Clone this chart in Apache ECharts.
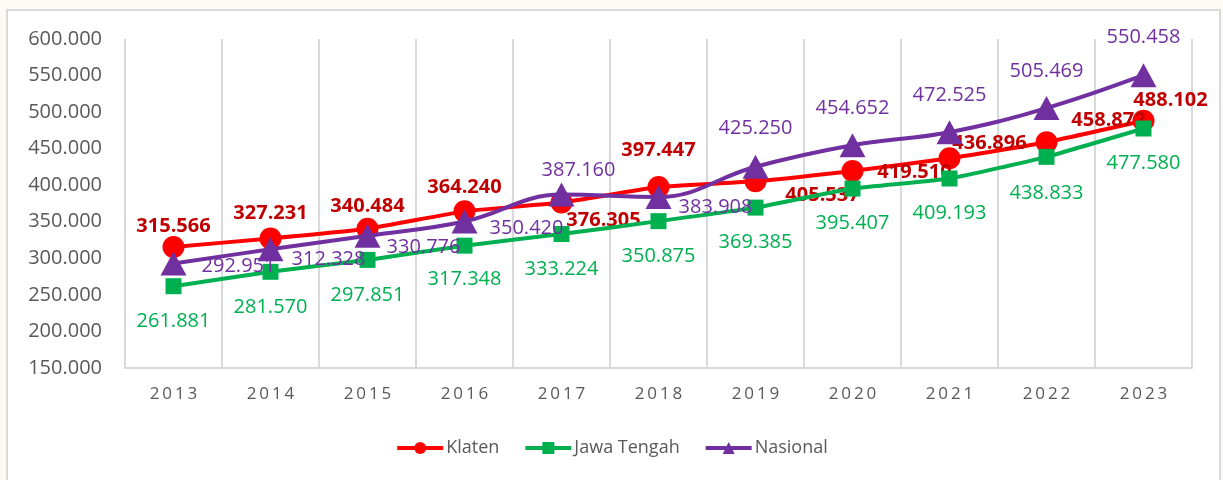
<!DOCTYPE html>
<html>
  <head>
    <meta charset="utf-8" />
    <script src="https://cdn.jsdelivr.net/npm/echarts@6/dist/echarts.min.js"></script>
    <style>
      body { margin: 0; background: #fbfaf5; }
    </style>
  </head>
  <body>
    <div id="main" style="width: 1223px;height:480px;"></div>
    <script type="text/javascript">
      var myChart = echarts.init(document.getElementById('main'));

      // data
      const years = ['2013', '2014', '2015', '2016', '2017', '2018', '2019', '2020', '2021', '2022', '2023'];
      const klaten = [315566, 327231, 340484, 364240, 376305, 397447, 405537, 419510, 436896, 458872, 488102];
      const jawaTengah = [261881, 281570, 297851, 317348, 333224, 350875, 369385, 395407, 409193, 438833, 477580];
      const nasional = [292951, 312328, 330776, 350420, 387160, 383908, 425250, 454652, 472525, 505469, 550458];
      const yTicks = [150000, 600000, 50000]; // min, max, step

      // where each value label sits, relative to its marker
      const klatenLabelPos = [[0, -21], [0, -25], [0, -22], [0, -24], [42, 18], [0, -37], [67, 14], [62, 1], [40, -15], [62, -22], [27, -21]];
      const jawaLabelPos = [[0, 35], [0, 35], [0, 35], [0, 34], [0, 35], [0, 35], [0, 35], [0, 35], [0, 35], [0, 36], [0, 35]];
      const nasLabelPos = [[65, 3], [58, 10], [56, 11], [62, 7], [17, -24], [57, 10], [0, -38], [0, -37], [0, -37], [0, -37], [0, -38]];

      function fmt(v) {
        return String(v).replace(/\B(?=(\d{3})+(?!\d))/g, '.');
      }
      function withLabels(values, pos) {
        return values.map((v, i) => ({ value: v, label: { offset: pos[i] } }));
      }
      const fontFam = '"Open Sans", sans-serif';

      option = {
        animation: false,
        textStyle: { fontFamily: fontFam },
        graphic: [
          { type: 'rect',
            shape: { x: 7, y: 10, width: 1213, height: 480 },
            style: { fill: '#fff', stroke: '#d9d9d9', lineWidth: 2 },
            z: -10
          }
        ],
        grid: {
          left: 125,
          right: 31,
          top: 39,
          bottom: 112
        },
        legend: {
          top: 434,
          left: 'center',
          itemWidth: 46,
          itemHeight: 15,
          itemGap: 24,
          lineStyle: { width: 4 },
          textStyle: { fontSize: 18, color: '#595959', fontFamily: fontFam, padding: [0, 0, 0, -2] },
          data: ['Klaten', 'Jawa Tengah', 'Nasional']
        },
        xAxis: {
          type: 'category',
          data: years,
          boundaryGap: true,
          axisLine: { lineStyle: { color: '#d9d9d9', width: 2 } },
          axisTick: { show: false },
          splitLine: { show: true, lineStyle: { color: '#d9d9d9', width: 2 } },
          axisLabel: {
            color: '#595959',
            fontSize: 17,
            margin: 18,
            formatter: function (value) {
              return value.split('').join('\u2009');
            }
          }
        },
        yAxis: {
          type: 'value',
          min: yTicks[0],
          max: yTicks[1],
          interval: yTicks[2],
          axisLine: { show: false },
          axisTick: { show: false },
          splitLine: { show: false },
          axisLabel: {
            color: '#595959',
            fontSize: 20,
            margin: 23,
            formatter: fmt
          }
        },
        series: [
          { name: 'Klaten',
            type: 'line',
            data: withLabels(klaten, klatenLabelPos),
            symbol: 'circle',
            symbolSize: 22,
            smooth: 0.15,
            color: '#ff0000',
            lineStyle: { width: 4, color: '#ff0000' },
            itemStyle: { color: '#ff0000' },
            label: {
              show: true,
              position: 'inside',
              fontSize: 20,
              fontWeight: 'bold',
              color: '#c00000',
              formatter: p => fmt(p.value)
            },
            z: 2
          },
          { name: 'Jawa Tengah',
            type: 'line',
            data: withLabels(jawaTengah, jawaLabelPos),
            symbol: 'rect',
            symbolSize: 16,
            smooth: 0.15,
            color: '#00b050',
            lineStyle: { width: 4, color: '#00b050' },
            itemStyle: { color: '#00b050' },
            label: {
              show: true,
              position: 'inside',
              fontSize: 20,
              color: '#00b050',
              formatter: p => fmt(p.value)
            },
            z: 3
          },
          { name: 'Nasional',
            type: 'line',
            data: withLabels(nasional, nasLabelPos),
            symbol: 'triangle',
            symbolSize: [26, 24],
            smooth: 0.4,
            color: '#7030a0',
            lineStyle: { width: 4, color: '#7030a0' },
            itemStyle: { color: '#7030a0' },
            label: {
              show: true,
              position: 'inside',
              fontSize: 20,
              color: '#7030a0',
              formatter: p => fmt(p.value)
            },
            z: 4
          }
        ]
      };

      myChart.setOption(option);
    </script>
  </body>
</html>
